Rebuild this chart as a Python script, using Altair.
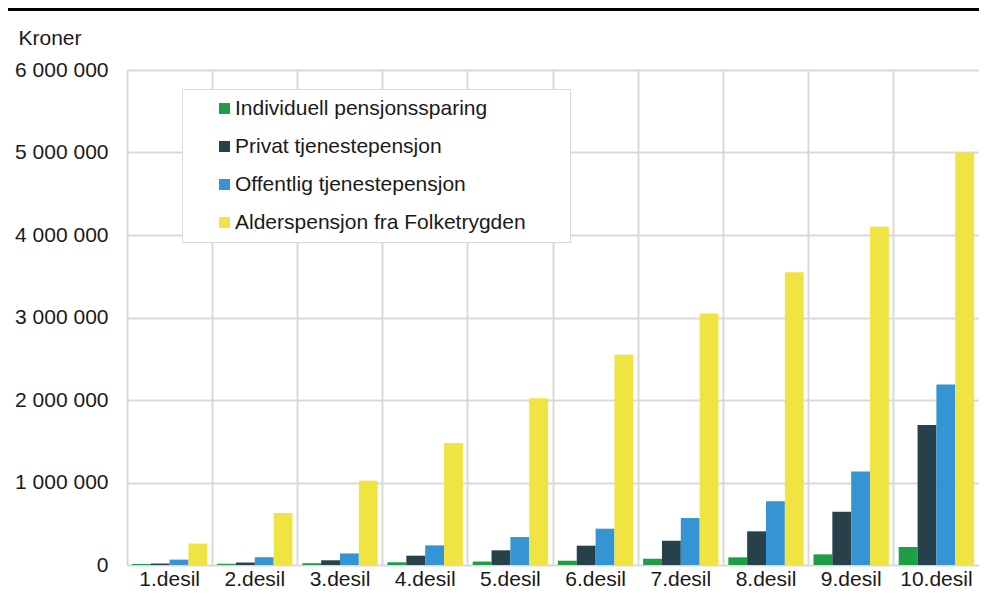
import altair as alt
import pandas as pd

desil = ["1.desil", "2.desil", "3.desil", "4.desil", "5.desil",
         "6.desil", "7.desil", "8.desil", "9.desil", "10.desil"]
series = ["Individuell pensjonssparing", "Privat tjenestepensjon",
          "Offentlig tjenestepensjon", "Alderspensjon fra Folketrygden"]
colors = ["#1f9e48", "#27414a", "#3594d3", "#f0e442"]

individuell = [12000, 15000, 22000, 33000, 42000, 52000, 76000, 93000, 129000, 218000]
privat = [18000, 30000, 57000, 113000, 178000, 234000, 294000, 408000, 645000, 1697000]
offentlig = [65000, 95000, 140000, 238000, 339000, 440000, 569000, 774000, 1133000, 2189000]
alders = [260000, 630000, 1020000, 1480000, 2020000, 2550000, 3050000, 3550000, 4100000, 5000000]

y_ticks = [0, 1000000, 2000000, 3000000, 4000000, 5000000, 6000000]

# trailing no-break spaces (kept by a zero-width space) widen the legend frame on the right
PAD = "\u00a0" * 6 + "\u200b"
legend_names = [s + PAD for s in series]

rows = []
for i, d in enumerate(desil):
    for s, vals in zip(legend_names, [individuell, privat, offentlig, alders]):
        rows.append({"desil": d, "serie": s, "verdi": vals[i]})
df = pd.DataFrame(rows)

FONT = "Liberation Sans"
FS = 21
W, H = 852, 495
TOP = 62

bars = alt.Chart(df).mark_bar().encode(
    x=alt.X("desil:N", sort=desil,
            scale=alt.Scale(paddingInner=0, paddingOuter=0),
            axis=alt.Axis(title=None, bandPosition=0,
                          grid=True, ticks=False, domain=False, labelAngle=0,
                          labelFontSize=FS, labelPadding=3, labelColor="#1a1a1a",
                          labelFont=FONT)),
    xOffset=alt.XOffset("serie:N", sort=legend_names,
                        scale=alt.Scale(paddingInner=0, paddingOuter=0.26)),
    y=alt.Y("verdi:Q", scale=alt.Scale(domain=[0, 6000000]),
            axis=alt.Axis(values=y_ticks, title="Kroner", titleAngle=0,
                          titleX=-109, titleY=-32, titleAlign="left",
                          titleBaseline="middle", titleFontSize=FS,
                          titleFontWeight="normal", titleFont=FONT,
                          titleColor="#1a1a1a",
                          labelExpr="replace(format(datum.value, ',d'), regexp(',', 'g'), ' ')",
                          ticks=False, domain=False, labelFontSize=FS,
                          labelPadding=19, labelColor="#1a1a1a", labelFont=FONT)),
    color=alt.Color("serie:N", sort=legend_names,
                    scale=alt.Scale(domain=legend_names, range=colors),
                    legend=alt.Legend(title=None, orient="none", legendX=55, legendY=19,
                                      padding=9, symbolOffset=23, fillColor="white",
                                      strokeColor="#d9d9d9", labelFontSize=FS,
                                      labelFont=FONT, labelColor="#1a1a1a",
                                      symbolType="square", symbolSize=121,
                                      symbolStrokeWidth=0, rowPadding=16,
                                      labelOffset=0, labelLimit=500)),
)

topline = alt.Chart(pd.DataFrame({"a": [0]})).mark_rule(color="black", strokeWidth=3).encode(
    x=alt.value(-119), x2=alt.value(W), y=alt.value(-TOP + 1.5)
)

chart = alt.layer(bars, topline).properties(
    width=W, height=H,
    autosize=alt.AutoSizeParams(type="none"),
    padding={"left": 119, "top": TOP, "right": 0, "bottom": 24},
).configure_view(stroke=None).configure_axis(
    gridColor="#d9d9d9", gridWidth=2
)

chart.save("out.html", embed_options={"renderer": "svg", "actions": False})
